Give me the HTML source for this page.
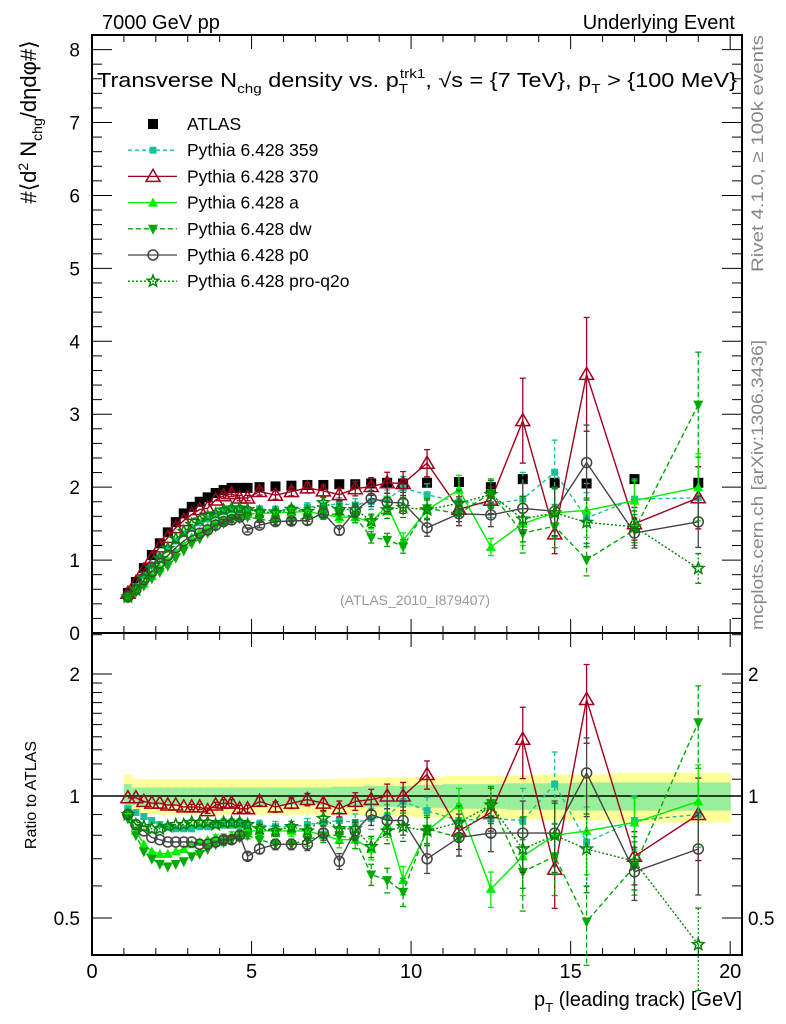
<!DOCTYPE html>
<html><head><meta charset="utf-8"><style>
body{margin:0;background:#fff}
svg{display:block;font-family:"Liberation Sans",sans-serif}
</style></head><body>
<svg id="c" width="786" height="1024" viewBox="0 0 786 1024" xmlns="http://www.w3.org/2000/svg">
<rect x="0" y="0" width="786" height="1024" fill="#fff"/>
<text x="102" y="29" font-size="20">7000 GeV pp</text>
<text x="735" y="29" font-size="20" text-anchor="end">Underlying Event</text>
<g id="plot"></g>
<text x="97" y="87" font-size="20" textLength="640" lengthAdjust="spacingAndGlyphs">Transverse N<tspan font-size="13" dy="6">chg</tspan><tspan dy="-6"> density vs. p</tspan><tspan font-size="13" dy="6">T</tspan><tspan font-size="13" dy="-15" dx="-7">trk1</tspan><tspan dy="9">, √s = {7 TeV}, p</tspan><tspan font-size="13" dy="6">T</tspan><tspan dy="-6"> &gt; {100 MeV}</tspan></text>
<text transform="translate(36,122) rotate(-90)" font-size="22" text-anchor="middle">#⟨d<tspan font-size="14" dy="-8">2</tspan><tspan dy="8"> N</tspan><tspan font-size="14" dy="6">chg</tspan><tspan dy="-6">/dηdφ#⟩</tspan></text>
<text transform="translate(36,795) rotate(-90)" font-size="16" text-anchor="middle">Ratio to ATLAS</text>
<text transform="translate(763,272) rotate(-90)" font-size="17" fill="#888" textLength="237" lengthAdjust="spacingAndGlyphs">Rivet 4.1.0, ≥ 100k events</text>
<text transform="translate(763,630) rotate(-90)" font-size="17" fill="#888" textLength="290" lengthAdjust="spacingAndGlyphs">mcplots.cern.ch [arXiv:1306.3436]</text>
<text x="415" y="605" font-size="14" fill="#999" text-anchor="middle">(ATLAS_2010_I879407)</text>
<text x="742" y="1006" font-size="20" text-anchor="end">p<tspan font-size="13" dy="6">T</tspan><tspan dy="-6"> (leading track) [GeV]</tspan></text>
</svg>
<script>
const ptCenters=[1.125,1.375,1.625,1.875,2.125,2.375,2.625,2.875,3.125,3.375,3.625,3.875,4.125,4.375,4.625,4.875,5.25,5.75,6.25,6.75,7.25,7.75,8.25,8.75,9.25,9.75,10.5,11.5,12.5,13.5,14.5,15.5,17,19];
const atlasValues=[0.55,0.70,0.89,1.07,1.23,1.38,1.52,1.64,1.73,1.80,1.86,1.92,1.96,1.99,1.99,1.99,2.00,2.01,2.02,2.03,2.03,2.04,2.04,2.05,2.06,2.05,2.06,2.07,2.00,2.11,2.06,2.05,2.11,2.06];
const bandStat=[0.07,0.05,0.05,0.05,0.05,0.05,0.05,0.05,0.05,0.05,0.05,0.05,0.05,0.05,0.05,0.05,0.05,0.05,0.05,0.05,0.05,0.055,0.055,0.06,0.06,0.06,0.065,0.07,0.07,0.075,0.075,0.08,0.08,0.08];
const bandTot=[0.13,0.10,0.10,0.10,0.10,0.10,0.10,0.10,0.10,0.10,0.10,0.10,0.10,0.10,0.10,0.10,0.10,0.10,0.10,0.10,0.10,0.105,0.105,0.11,0.11,0.11,0.115,0.12,0.12,0.125,0.13,0.13,0.14,0.14];
const ratio359=[0.93,0.91,0.89,0.87,0.85,0.84,0.83,0.83,0.83,0.84,0.84,0.85,0.85,0.85,0.85,0.84,0.85,0.84,0.84,0.85,0.86,0.87,0.86,0.88,0.89,0.97,0.92,0.87,0.88,0.87,1.07,0.77,0.87,0.90];
const ratio370=[0.99,0.99,0.97,0.96,0.96,0.95,0.95,0.94,0.94,0.94,0.92,0.95,0.96,0.96,0.93,0.93,0.97,0.94,0.96,0.98,0.96,0.93,0.97,0.98,1.00,1.00,1.13,0.82,0.91,1.38,0.66,1.73,0.71,0.90];
const ratioA=[0.90,0.82,0.76,0.73,0.72,0.72,0.73,0.74,0.76,0.77,0.78,0.79,0.79,0.80,0.81,0.82,0.82,0.82,0.82,0.82,0.80,0.78,0.78,0.74,0.85,0.62,0.82,0.95,0.59,0.71,0.80,0.82,0.86,0.97];
const ratioDw=[0.88,0.80,0.73,0.70,0.68,0.67,0.68,0.69,0.71,0.72,0.74,0.76,0.77,0.78,0.79,0.80,0.78,0.76,0.76,0.78,0.80,0.80,0.78,0.64,0.62,0.58,0.83,0.79,0.96,0.65,0.71,0.49,0.67,1.52];
const ratioP0=[0.90,0.85,0.82,0.79,0.78,0.77,0.77,0.77,0.77,0.76,0.76,0.77,0.78,0.78,0.80,0.71,0.74,0.76,0.76,0.76,0.81,0.69,0.82,0.90,0.87,0.87,0.70,0.79,0.81,0.81,0.81,1.14,0.65,0.74];
const ratioQ2o=[0.90,0.85,0.84,0.83,0.83,0.84,0.85,0.85,0.86,0.86,0.86,0.85,0.86,0.86,0.86,0.85,0.83,0.82,0.84,0.82,0.88,0.83,0.83,0.75,0.82,0.84,0.82,0.86,0.95,0.74,0.80,0.74,0.69,0.43];
const relErr=[0.01,0.01,0.01,0.01,0.01,0.01,0.01,0.01,0.015,0.015,0.015,0.015,0.02,0.02,0.02,0.02,0.025,0.03,0.03,0.035,0.04,0.045,0.05,0.06,0.07,0.08,0.08,0.1,0.1,0.2,0.2,0.22,0.15,0.23];
const xTicks=[0,5,10,15,20];
const yTicksTop=[0,1,2,3,4,5,6,7,8];
const yTicksRatio=[0.5,1,2];

const NS="http://www.w3.org/2000/svg";
const L=92,R=742,T=35,MB=633,RB=955;
const xs=v=>L+(v/20.37)*(R-L);
const ys=v=>MB-v*(MB-T)/8.2;
const yr=r=>796-122*Math.log2(r);
const g=document.getElementById('plot');
function mk(tag,at,parent){const e=document.createElementNS(NS,tag);for(const k in at)e.setAttribute(k,at[k]);(parent||g).appendChild(e);return e;}

for(let i=0;i<ptCenters.length;i++){
  const x0=i==0?xs(1.0):(xs(ptCenters[i-1])+xs(ptCenters[i]))/2;
  const x1=i==ptCenters.length-1?xs(20):(xs(ptCenters[i])+xs(ptCenters[i+1]))/2;
  const b1=mk('rect',{x:x0,y:yr(1+bandTot[i]),width:x1-x0+0.5,height:yr(1-bandTot[i])-yr(1+bandTot[i]),fill:'#ffff99'});
  
  
  const b2=mk('rect',{x:x0,y:yr(1+bandStat[i]),width:x1-x0+0.5,height:yr(1-bandStat[i])-yr(1+bandStat[i]),fill:'#99ee99'});
  
  
}
const one=mk('line',{x1:L,x2:R,y1:yr(1),y2:yr(1),stroke:'#000','stroke-width':1.5});



const f1=mk('rect',{x:L,y:T,width:R-L,height:MB-T,fill:'none',stroke:'#000','stroke-width':2});


const f2=mk('rect',{x:L,y:MB,width:R-L,height:RB-MB,fill:'none',stroke:'#000','stroke-width':2});



for(let v=0;v<=20;v++){
  const maj=v%5==0,len=maj?14:7;
  for(const yb of [MB,RB]) mk('line',{x1:xs(v),x2:xs(v),y1:yb,y2:yb-len,stroke:'#000','stroke-width':1});
  for(const yt of [T,MB]) mk('line',{x1:xs(v),x2:xs(v),y1:yt,y2:yt+len,stroke:'#000','stroke-width':1});
}
xTicks.forEach(v=>{const t=mk('text',{x:xs(v),y:978,'font-size':20,'text-anchor':'middle'});t.textContent=v;

});
for(let k=0;k<=41;k++){const v=k*0.2;const maj=k%5==0,len=maj?20:10;
  mk('line',{x1:L,x2:L+len,y1:ys(v),y2:ys(v),stroke:'#000'});mk('line',{x1:R,x2:R-len,y1:ys(v),y2:ys(v),stroke:'#000'});}
yTicksTop.forEach(v=>{const t=mk('text',{x:80,y:ys(v)+7,'font-size':19,'text-anchor':'end'});t.textContent=v;

});
[0.4,0.5,0.6,0.7,0.8,0.9,1,1.1,1.2,1.3,1.4,1.5,1.6,1.7,1.8,1.9,2,2.5].forEach(v=>{const maj=yTicksRatio.includes(v),len=maj?20:10;const y=yr(v);if(y<MB||y>RB)return;
  mk('line',{x1:L,x2:L+len,y1:y,y2:y,stroke:'#000'});mk('line',{x1:R,x2:R-len,y1:y,y2:y,stroke:'#000'});});
yTicksRatio.forEach(v=>{const t=mk('text',{x:80,y:yr(v)+7,'font-size':19,'text-anchor':'end'});t.textContent=v;


const t2=mk('text',{x:748,y:yr(v)+7,'font-size':19});t2.textContent=v;

});

function marker(type,x,y,col,parent){
  const s=5;
  if(type=='sq') return mk('rect',{x:x-s,y:y-s,width:2*s,height:2*s,fill:col},parent);
  if(type=='ssq') return mk('rect',{x:x-3.5,y:y-3.5,width:7,height:7,fill:col},parent);
  if(type=='otri') return mk('polygon',{points:`${x},${y-7} ${x-7},${y+5} ${x+7},${y+5}`,fill:'#fff','fill-opacity':0,stroke:col,'stroke-width':1.5},parent);
  if(type=='tri') return mk('polygon',{points:`${x},${y-5} ${x-5},${y+4} ${x+5},${y+4}`,fill:col},parent);
  if(type=='itri') return mk('polygon',{points:`${x},${y+6} ${x-5},${y-4} ${x+5},${y-4}`,fill:col},parent);
  if(type=='circ') return mk('circle',{cx:x,cy:y,r:5,fill:'none',stroke:col,'stroke-width':1.5},parent);
  if(type=='star'){let p=[];for(let k=0;k<10;k++){const a=-Math.PI/2+k*Math.PI/5,r=k%2?2.6:6;p.push((x+r*Math.cos(a)).toFixed(1)+','+(y+r*Math.sin(a)).toFixed(1));}
    return mk('polygon',{points:p.join(' '),fill:'none',stroke:col,'stroke-width':1.5},parent);}
}

const ag=mk('g',{});


ptCenters.forEach((p,i)=>{const m=marker('sq',xs(p),ys(atlasValues[i]),'#000',ag);

});

const series=[
 {name:'pythia-359',ratio:ratio359,col:'#19c09a',dash:'4,3',mk:'ssq'},
 {name:'pythia-370',ratio:ratio370,col:'#a0001e',dash:'',mk:'otri'},
 {name:'pythia-a',ratio:ratioA,col:'#00ee00',dash:'',mk:'tri'},
 {name:'pythia-dw',ratio:ratioDw,col:'#00aa00',dash:'5,3',mk:'itri'},
 {name:'pythia-p0',ratio:ratioP0,col:'#444444',dash:'',mk:'circ'},
 {name:'pythia-pro-q2o',ratio:ratioQ2o,col:'#008800',dash:'2,2',mk:'star'}
];
series.forEach(s=>{
  const vals=s.ratio.map((r,i)=>r*atlasValues[i]);
  [[vals,ys,'top'],[s.ratio,yr,'ratio']].forEach(([arr,sc,pn])=>{
    const sg=mk('g',{});
    
    
    const pts=ptCenters.map((p,i)=>xs(p).toFixed(1)+','+sc(arr[i]).toFixed(1)).join(' ');
    const at={points:pts,fill:'none',stroke:s.col,'stroke-width':1.4};if(s.dash)at['stroke-dasharray']=s.dash;
    mk('polyline',at,sg);
    ptCenters.forEach((p,i)=>{const v=arr[i],e=v*relErr[i];if(e*(pn=='top'?72.9:170)<2)return;
      const x=xs(p),y1=sc(v+e),y2=sc(Math.max(v-e,0.01));
      const ea={x1:x,x2:x,y1:y1,y2:y2,stroke:s.col,'stroke-width':1.3};if(s.dash)ea['stroke-dasharray']=s.dash;
      mk('line',ea,sg);mk('line',{x1:x-3,x2:x+3,y1:y1,y2:y1,stroke:s.col,'stroke-width':1.3},sg);mk('line',{x1:x-3,x2:x+3,y1:y2,y2:y2,stroke:s.col,'stroke-width':1.3},sg);});
    ptCenters.forEach((p,i)=>{const m=marker(s.mk,xs(p),sc(arr[i]),s.col,sg);
      
      });
  });
});

const legendLabels=['ATLAS','Pythia 6.428 359','Pythia 6.428 370','Pythia 6.428 a','Pythia 6.428 dw','Pythia 6.428 p0','Pythia 6.428 pro-q2o'];
const lg=mk('g',{});


legendLabels.forEach((lab,k)=>{
  const y=124+k*26.2;
  const eg=mk('g',{},lg);
  
  
  if(k==0){marker('sq',153,y,'#000',eg);}
  else{const s=series[k-1];const a={x1:128,x2:177,y1:y,y2:y,stroke:s.col,'stroke-width':1.3};if(s.dash)a['stroke-dasharray']=s.dash;mk('line',a,eg);marker(s.mk,153,y,s.col,eg);}
  const t=mk('text',{x:187,y:y+6,'font-size':17.5},eg);t.textContent=lab;
});
</script>
</body></html>
